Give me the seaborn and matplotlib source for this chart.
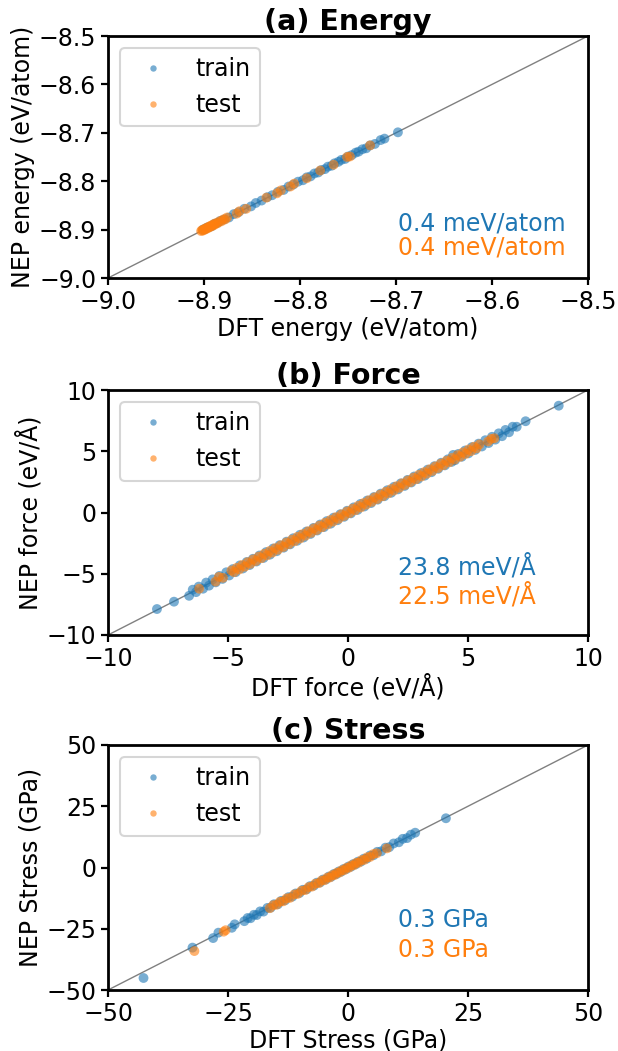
import numpy as np
import pandas as pd
import matplotlib
matplotlib.use("Agg")
import matplotlib.pyplot as plt
import seaborn as sns

# ---------------- data ----------------
E_train_dft = [-8.901, -8.899, -8.897, -8.895, -8.892, -8.889, -8.886, -8.883, -8.879, -8.874,
               -8.869, -8.864, -8.858, -8.851, -8.846, -8.840, -8.834, -8.829, -8.823, -8.817,
               -8.812, -8.807, -8.802, -8.797, -8.793, -8.789, -8.785, -8.781, -8.778, -8.774,
               -8.771, -8.767, -8.764, -8.760, -8.757, -8.753, -8.750, -8.746, -8.742, -8.739,
               -8.735, -8.731, -8.727, -8.722, -8.716, -8.712, -8.698]
E_train_nep = [-8.900, -8.899, -8.896, -8.895, -8.893, -8.888, -8.886, -8.882, -8.879, -8.875,
               -8.868, -8.864, -8.857, -8.852, -8.845, -8.840, -8.833, -8.829, -8.822, -8.818,
               -8.811, -8.807, -8.801, -8.798, -8.792, -8.790, -8.784, -8.782, -8.777, -8.775,
               -8.770, -8.768, -8.763, -8.760, -8.756, -8.754, -8.749, -8.746, -8.741, -8.739,
               -8.734, -8.732, -8.726, -8.723, -8.715, -8.712, -8.699]
E_test_dft = [-8.903, -8.902, -8.901, -8.900, -8.899, -8.898, -8.897, -8.896, -8.895, -8.894,
              -8.893, -8.892, -8.891, -8.890, -8.889, -8.888, -8.886, -8.884, -8.882, -8.880,
              -8.878, -8.876, -8.866, -8.863, -8.856, -8.835, -8.824, -8.820, -8.810, -8.806,
              -8.793, -8.779, -8.765, -8.751, -8.748, -8.727]
E_test_nep = [-8.903, -8.901, -8.902, -8.899, -8.900, -8.897, -8.898, -8.895, -8.896, -8.893,
              -8.894, -8.891, -8.892, -8.889, -8.890, -8.887, -8.887, -8.883, -8.883, -8.879,
              -8.879, -8.875, -8.867, -8.862, -8.857, -8.834, -8.825, -8.819, -8.811, -8.805,
              -8.794, -8.778, -8.766, -8.750, -8.749, -8.726]

F_train_dft = [-7.96, -7.25, -6.62, -6.47, -6.33, -6.22, -6.04, -5.91, -5.79, -5.64,
               -5.51, -5.36, -5.23, -5.07, -4.95, -4.80, -4.68, -4.51, -4.38, -4.22,
               -4.10, -3.96, -3.81, -3.69, -3.52, -3.41, -3.25, -3.12, -2.97, -2.85,
               -2.68, -2.56, -2.41, -2.28, -2.12, -2.00, -1.85, -1.73, -1.56, -1.44,
               -1.28, -1.16, -1.00, -0.88, -0.72, -0.60, -0.44, -0.32, -0.16, -0.04,
               0.12, 0.24, 0.40, 0.52, 0.68, 0.80, 0.96, 1.08, 1.24, 1.36,
               1.52, 1.64, 1.80, 1.92, 2.08, 2.20, 2.36, 2.48, 2.64, 2.76,
               2.92, 3.04, 3.20, 3.32, 3.48, 3.60, 3.76, 3.88, 4.04, 4.16,
               4.32, 4.38, 4.46, 4.60, 4.74, 4.88, 5.02, 5.16, 5.30, 5.44,
               5.58, 5.72, 5.86, 6.00, 6.14, 6.28, 6.42, 6.56, 6.71, 6.86,
               7.03, 7.40, 8.78]
F_train_nep = [-7.88, -7.28, -6.80, -6.30, -6.50, -6.05, -6.22, -5.72, -5.97, -5.46,
               -5.70, -5.18, -5.42, -4.88, -5.14, -4.62, -4.87, -4.32, -4.57, -4.04,
               -4.29, -3.78, -4.00, -3.51, -3.71, -3.23, -3.44, -2.94, -3.16, -2.67,
               -2.87, -2.38, -2.60, -2.10, -2.31, -1.82, -2.04, -1.55, -1.75, -1.26,
               -1.47, -0.98, -1.19, -0.70, -0.91, -0.42, -0.63, -0.14, -0.35, 0.14,
               -0.07, 0.42, 0.21, 0.70, 0.49, 0.98, 0.77, 1.26, 1.05, 1.54,
               1.33, 1.82, 1.61, 2.10, 1.89, 2.38, 2.17, 2.66, 2.45, 2.94,
               2.73, 3.22, 3.01, 3.50, 3.29, 3.78, 3.57, 4.06, 3.85, 4.34,
               4.13, 4.70, 4.27, 4.78, 4.55, 5.06, 4.83, 5.34, 5.11, 5.62,
               5.39, 5.90, 5.67, 6.18, 5.95, 6.46, 6.23, 6.74, 6.55, 7.00,
               7.00, 7.45, 8.72]
F_test_dft = [-6.20, -5.52, -5.38, -5.21, -4.86, -4.75, -4.64, -4.53, -4.41, -4.30,
              -4.18, -4.07, -3.95, -3.84, -3.72, -3.61, -3.49, -3.38, -3.26, -3.15,
              -3.03, -2.92, -2.80, -2.69, -2.57, -2.46, -2.34, -2.23, -2.11, -2.00,
              -1.88, -1.77, -1.65, -1.54, -1.42, -1.31, -1.19, -1.08, -0.96, -0.85,
              -0.73, -0.62, -0.50, -0.39, -0.27, -0.16, -0.04, 0.07, 0.19, 0.30,
              0.42, 0.53, 0.65, 0.76, 0.88, 0.99, 1.11, 1.22, 1.34, 1.45,
              1.57, 1.68, 1.80, 1.91, 2.03, 2.14, 2.26, 2.37, 2.49, 2.60,
              2.72, 2.83, 2.95, 3.06, 3.18, 3.29, 3.41, 3.52, 3.64, 3.75,
              3.87, 3.98, 4.10, 4.21, 4.33, 4.44, 4.56, 4.67, 4.79, 4.90,
              5.02, 5.13, 5.25, 5.36, 5.48, 5.84, 5.97, 6.10]
F_test_nep = [-6.22, -5.64, -5.26, -5.33, -4.74, -4.87, -4.52, -4.65, -4.29, -4.42,
              -4.06, -4.19, -3.83, -3.96, -3.60, -3.73, -3.37, -3.50, -3.14, -3.27,
              -2.91, -3.04, -2.68, -2.81, -2.45, -2.58, -2.22, -2.35, -1.99, -2.12,
              -1.76, -1.89, -1.53, -1.66, -1.30, -1.43, -1.07, -1.20, -0.84, -0.97,
              -0.61, -0.74, -0.38, -0.51, -0.15, -0.28, 0.08, -0.05, 0.31, 0.18,
              0.54, 0.41, 0.77, 0.64, 1.00, 0.87, 1.23, 1.10, 1.46, 1.33,
              1.69, 1.56, 1.92, 1.79, 2.15, 2.02, 2.38, 2.25, 2.61, 2.48,
              2.84, 2.71, 3.07, 2.94, 3.30, 3.17, 3.53, 3.40, 3.76, 3.63,
              3.99, 3.86, 4.22, 4.09, 4.45, 4.32, 4.68, 4.55, 4.91, 4.78,
              5.14, 5.01, 5.37, 5.24, 5.56, 5.80, 6.01, 6.06]

S_train_dft = [-42.6, -32.4, -28.1, -27.0, -24.2, -23.6, -21.6, -20.9, -20.3, -19.6,
               -19.0, -18.3, -17.6, -16.8, -16.1, -15.4, -14.6, -13.9, -13.1, -12.4,
               -11.6, -10.9, -10.1, -9.4, -8.6, -7.9, -7.1, -6.5, -5.8, -5.2,
               -4.6, -4.0, -3.5, -2.9, -2.4, -1.9, -1.4, -0.9, -0.4, 0.1,
               0.6, 1.1, 1.6, 2.1, 2.7, 3.3, 3.9, 4.6, 5.3, 6.1,
               6.9, 7.8, 8.6, 9.5, 10.6, 11.4, 12.3, 13.1, 14.0, 20.4]
S_train_nep = [-45.1, -32.7, -28.8, -26.6, -24.6, -23.2, -21.9, -20.6, -20.7, -19.3,
               -19.4, -17.9, -18.0, -16.5, -16.4, -15.0, -15.0, -13.6, -13.4, -12.1,
               -11.9, -10.6, -10.4, -9.1, -8.9, -7.6, -7.4, -6.2, -6.1, -4.9,
               -4.9, -3.7, -3.8, -2.6, -2.7, -1.6, -1.7, -0.6, -0.7, 0.4,
               0.3, 1.4, 1.3, 2.4, 2.4, 3.6, 3.6, 4.9, 5.0, 6.4,
               6.6, 8.1, 8.3, 9.8, 10.3, 11.7, 12.0, 13.4, 14.2, 20.1]
S_test_dft = [-32.0, -25.9, -25.5, -16.3, -15.6, -14.9, -14.2, -13.5, -12.8, -12.1,
              -11.2, -10.5, -9.7, -8.9, -8.2, -7.5, -6.8, -6.1, -5.5, -4.9,
              -4.3, -3.8, -3.3, -2.8, -2.3, -1.8, -1.3, -0.8, -0.3, 0.2,
              0.7, 1.2, 1.7, 2.2, 2.8, 3.4, 4.0, 4.6, 5.3, 6.0,
              8.1]
S_test_nep = [-34.1, -26.2, -25.6, -16.6, -15.4, -15.2, -14.0, -13.8, -12.6, -12.4,
              -11.0, -10.8, -9.5, -9.2, -8.0, -7.8, -6.6, -6.4, -5.3, -5.2,
              -4.1, -4.1, -3.1, -3.1, -2.1, -2.1, -1.1, -1.1, -0.1, -0.1,
              0.9, 0.9, 1.9, 1.9, 3.0, 3.1, 4.2, 4.3, 5.5, 5.8,
              7.8]

titles = ["(a) Energy", "(b) Force", "(c) Stress"]
xlabels = ["DFT energy (eV/atom)", "DFT force (eV/Å)", "DFT Stress (GPa)"]
ylabels = ["NEP energy (eV/atom)", "NEP force (eV/Å)", "NEP Stress (GPa)"]
limits = [(-9.0, -8.5), (-10, 10), (-50, 50)]
ticks = [[-9.0, -8.9, -8.8, -8.7, -8.6, -8.5], [-10, -5, 0, 5, 10], [-50, -25, 0, 25, 50]]
rmse_train = ["0.4 meV/atom", "23.8 meV/Å", "0.3 GPa"]
rmse_test = ["0.4 meV/atom", "22.5 meV/Å", "0.3 GPa"]
text_y = [(0.227, 0.124), (0.278, 0.160), (0.286, 0.163)]

panels = [
    (E_train_dft, E_train_nep, E_test_dft, E_test_nep),
    (F_train_dft, F_train_nep, F_test_dft, F_test_nep),
    (S_train_dft, S_train_nep, S_test_dft, S_test_nep),
]

# ---------------- style ----------------
sns.set_theme(style="ticks", context="talk",
              rc={"text.color": "black", "axes.labelcolor": "black",
                  "xtick.color": "black", "ytick.color": "black",
                  "axes.edgecolor": "black"})
plt.rcParams["font.family"] = ["DejaVu Sans"]
plt.rcParams["axes.linewidth"] = 2.0
plt.rcParams["xtick.major.size"] = 5
plt.rcParams["ytick.major.size"] = 5
plt.rcParams["xtick.major.width"] = 1.6
plt.rcParams["ytick.major.width"] = 1.6
plt.rcParams["xtick.major.pad"] = 3.5
plt.rcParams["ytick.major.pad"] = 3.5

FS = 17
fig = plt.figure(figsize=(6.18, 10.51), dpi=100)
W, H = 618.0, 1051.0
boxes = [(36, 278), (390, 635), (745, 990)]
pal = {"train": "#1f77b4", "test": "#ff7f0e"}

for i, (tx, ty, sx, sy) in enumerate(panels):
    top, bot = boxes[i]
    ax = fig.add_axes([108 / W, (H - bot) / H, 480 / W, (bot - top) / H])
    df = pd.DataFrame({
        "dft": list(tx) + list(sx),
        "nep": list(ty) + list(sy),
        "set": ["train"] * len(tx) + ["test"] * len(sx),
    })
    lo, hi = limits[i]
    ax.plot([lo, hi], [lo, hi], color="gray", lw=1, zorder=1)
    sns.scatterplot(data=df, x="dft", y="nep", hue="set", palette=pal,
                    hue_order=["train", "test"], alpha=0.6, s=50,
                    linewidth=0, ax=ax, zorder=2)
    ax.set_xlim(lo, hi)
    ax.set_ylim(lo, hi)
    ax.set_xticks(ticks[i])
    ax.set_yticks(ticks[i])
    ax.tick_params(labelsize=FS)
    ax.set_xlabel(xlabels[i], fontsize=FS, labelpad=2)
    ax.set_ylabel(ylabels[i], fontsize=FS, labelpad=3)
    ax.set_title(titles[i], fontsize=20.5, fontweight="bold", pad=4)
    for sp in ax.spines.values():
        sp.set_visible(True)
        sp.set_color("black")
    leg = ax.legend(loc="upper left", fontsize=FS, title=None, markerscale=0.65)
    ax.text(0.604, text_y[i][0], rmse_train[i], transform=ax.transAxes,
            color=pal["train"], fontsize=FS, va="center", ha="left")
    ax.text(0.604, text_y[i][1], rmse_test[i], transform=ax.transAxes,
            color=pal["test"], fontsize=FS, va="center", ha="left")

fig.savefig("out.png", dpi=100)
